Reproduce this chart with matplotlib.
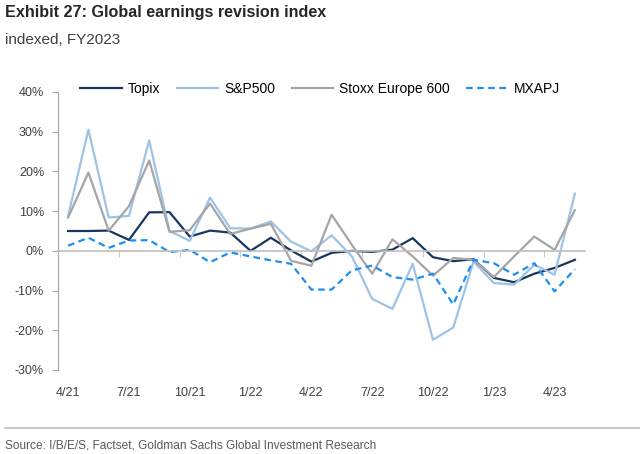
import matplotlib
matplotlib.use("Agg")
import matplotlib.pyplot as plt
from matplotlib.lines import Line2D
from matplotlib.ticker import FixedLocator, FuncFormatter

months = ["4/21", "5/21", "6/21", "7/21", "8/21", "9/21", "10/21", "11/21", "12/21",
          "1/22", "2/22", "3/22", "4/22", "5/22", "6/22", "7/22", "8/22", "9/22",
          "10/22", "11/22", "12/22", "1/23", "2/23", "3/23", "4/23", "5/23"]
tick_labels = ["4/21", "7/21", "10/21", "1/22", "4/22", "7/22", "10/22", "1/23", "4/23"]

topix = [5.0, 5.0, 5.1, 2.75, 9.7, 9.75, 3.6, 5.1, 4.6, 0.0, 3.3, 0.1, -2.7, -0.5, 0.0,
         -0.25, 0.3, 3.2, -1.6, -2.6, -2.1, -6.8, -7.9, -5.75, -4.3, -2.25]
sp500 = [8.8, 30.5, 8.4, 8.8, 27.8, 5.0, 2.5, 13.4, 5.7, 5.6, 7.4, 2.3, -0.1, 3.9, -1.4,
         -12.1, -14.6, -3.25, -22.4, -19.3, -2.7, -8.1, -8.5, -3.5, -6.0, 14.4]
stoxx = [8.4, 19.7, 5.1, 11.25, 22.75, 4.8, 5.2, 11.9, 4.25, 5.6, 6.8, -2.5, -3.75, 9.1, 1.5,
         -5.75, 2.9, -1.4, -6.25, -1.8, -2.25, -6.6, -1.4, 3.6, 0.25, 10.25]
mxapj = [1.3, 3.3, 0.75, 2.6, 2.7, -0.3, 0.25, -2.85, -0.4, -1.4, -2.4, -3.25, -9.75, -9.75,
         -4.9, -3.7, -6.6, -7.25, -5.75, -13.5, -2.25, -3.1, -6.0, -3.1, -10.2, -4.6]

regular = ["Liberation Sans", "DejaVu Sans"]

fig = plt.figure(figsize=(6.4, 4.54), dpi=100)
ax = fig.add_axes([58 / 640, 1 - 370 / 454, (585 - 58) / 640, (370 - 92) / 454])

x = list(range(len(months)))
ax.plot(x, topix, color="#17375E", lw=1.6, label="Topix")
ax.plot(x, sp500, color="#9DC3E6", lw=1.6, label="S&P500")
ax.plot(x, stoxx, color="#A5A5A5", lw=1.6, label="Stoxx Europe 600")
ax.plot(x, mxapj, color="#1E8FF0", lw=1.6, ls=(0, (3, 2)), label="MXAPJ")

ax.set_xlim(-0.5, len(months) - 0.5)
ax.set_ylim(-30, 40)

for s in ["top", "right"]:
    ax.spines[s].set_visible(False)
ax.spines["left"].set_color("#A6A6A6")
ax.spines["bottom"].set_color("#BFBFBF")
ax.spines["bottom"].set_position(("data", 0))
ax.spines["bottom"].set_linewidth(1.2)

ax.set_yticks([-30, -20, -10, 0, 10, 20, 30, 40])
ax.yaxis.set_major_formatter(FuncFormatter(lambda v, p: f"{int(v)}%"))
ax.tick_params(axis="y", direction="out", length=4, color="#A6A6A6", labelsize=9,
               labelcolor="#404040", pad=6)
for t in ax.get_yticklabels():
    t.set_family(regular)

# minor ticks on the zero line between label positions
ax.xaxis.set_major_locator(FixedLocator([]))
ax.xaxis.set_minor_locator(FixedLocator([2.5 + 3 * k for k in range(8)]))
ax.tick_params(axis="x", which="minor", direction="out", length=4, color="#BFBFBF")

sec = ax.secondary_xaxis("bottom")
sec.spines["bottom"].set_visible(False)
pos = [months.index(m) for m in tick_labels]
sec.set_xticks(pos)
sec.set_xticklabels(tick_labels)
sec.tick_params(axis="x", length=0, pad=12, labelsize=9, labelcolor="#404040")
for t in sec.get_xticklabels():
    t.set_family(regular)

fig.legend(loc="center", bbox_to_anchor=(0.5, 1 - 89 / 454), ncol=4, frameon=False,
           handlelength=3.0, columnspacing=1.2, handletextpad=0.4,
           prop={"family": regular, "size": 10})

fig.text(5 / 640, 1 - 12 / 454, "Exhibit 27: Global earnings revision index",
         family=regular, weight="bold", fontsize=11.6, color="#262626", va="center")
fig.text(5 / 640, 1 - 40 / 454, "indexed, FY2023", family=regular, fontsize=11,
         color="#404040", va="center")

fig.add_artist(Line2D([5 / 640, 1.0], [1 - 428 / 454, 1 - 428 / 454],
                      transform=fig.transFigure, color="#BFBFBF", lw=1.2))
fig.text(5 / 640, 1 - 446 / 454,
         "Source: I/B/E/S, Factset, Goldman Sachs Global Investment Research",
         family=regular, fontsize=8.6, color="#595959", va="center")

fig.savefig("out.png", dpi=100)
